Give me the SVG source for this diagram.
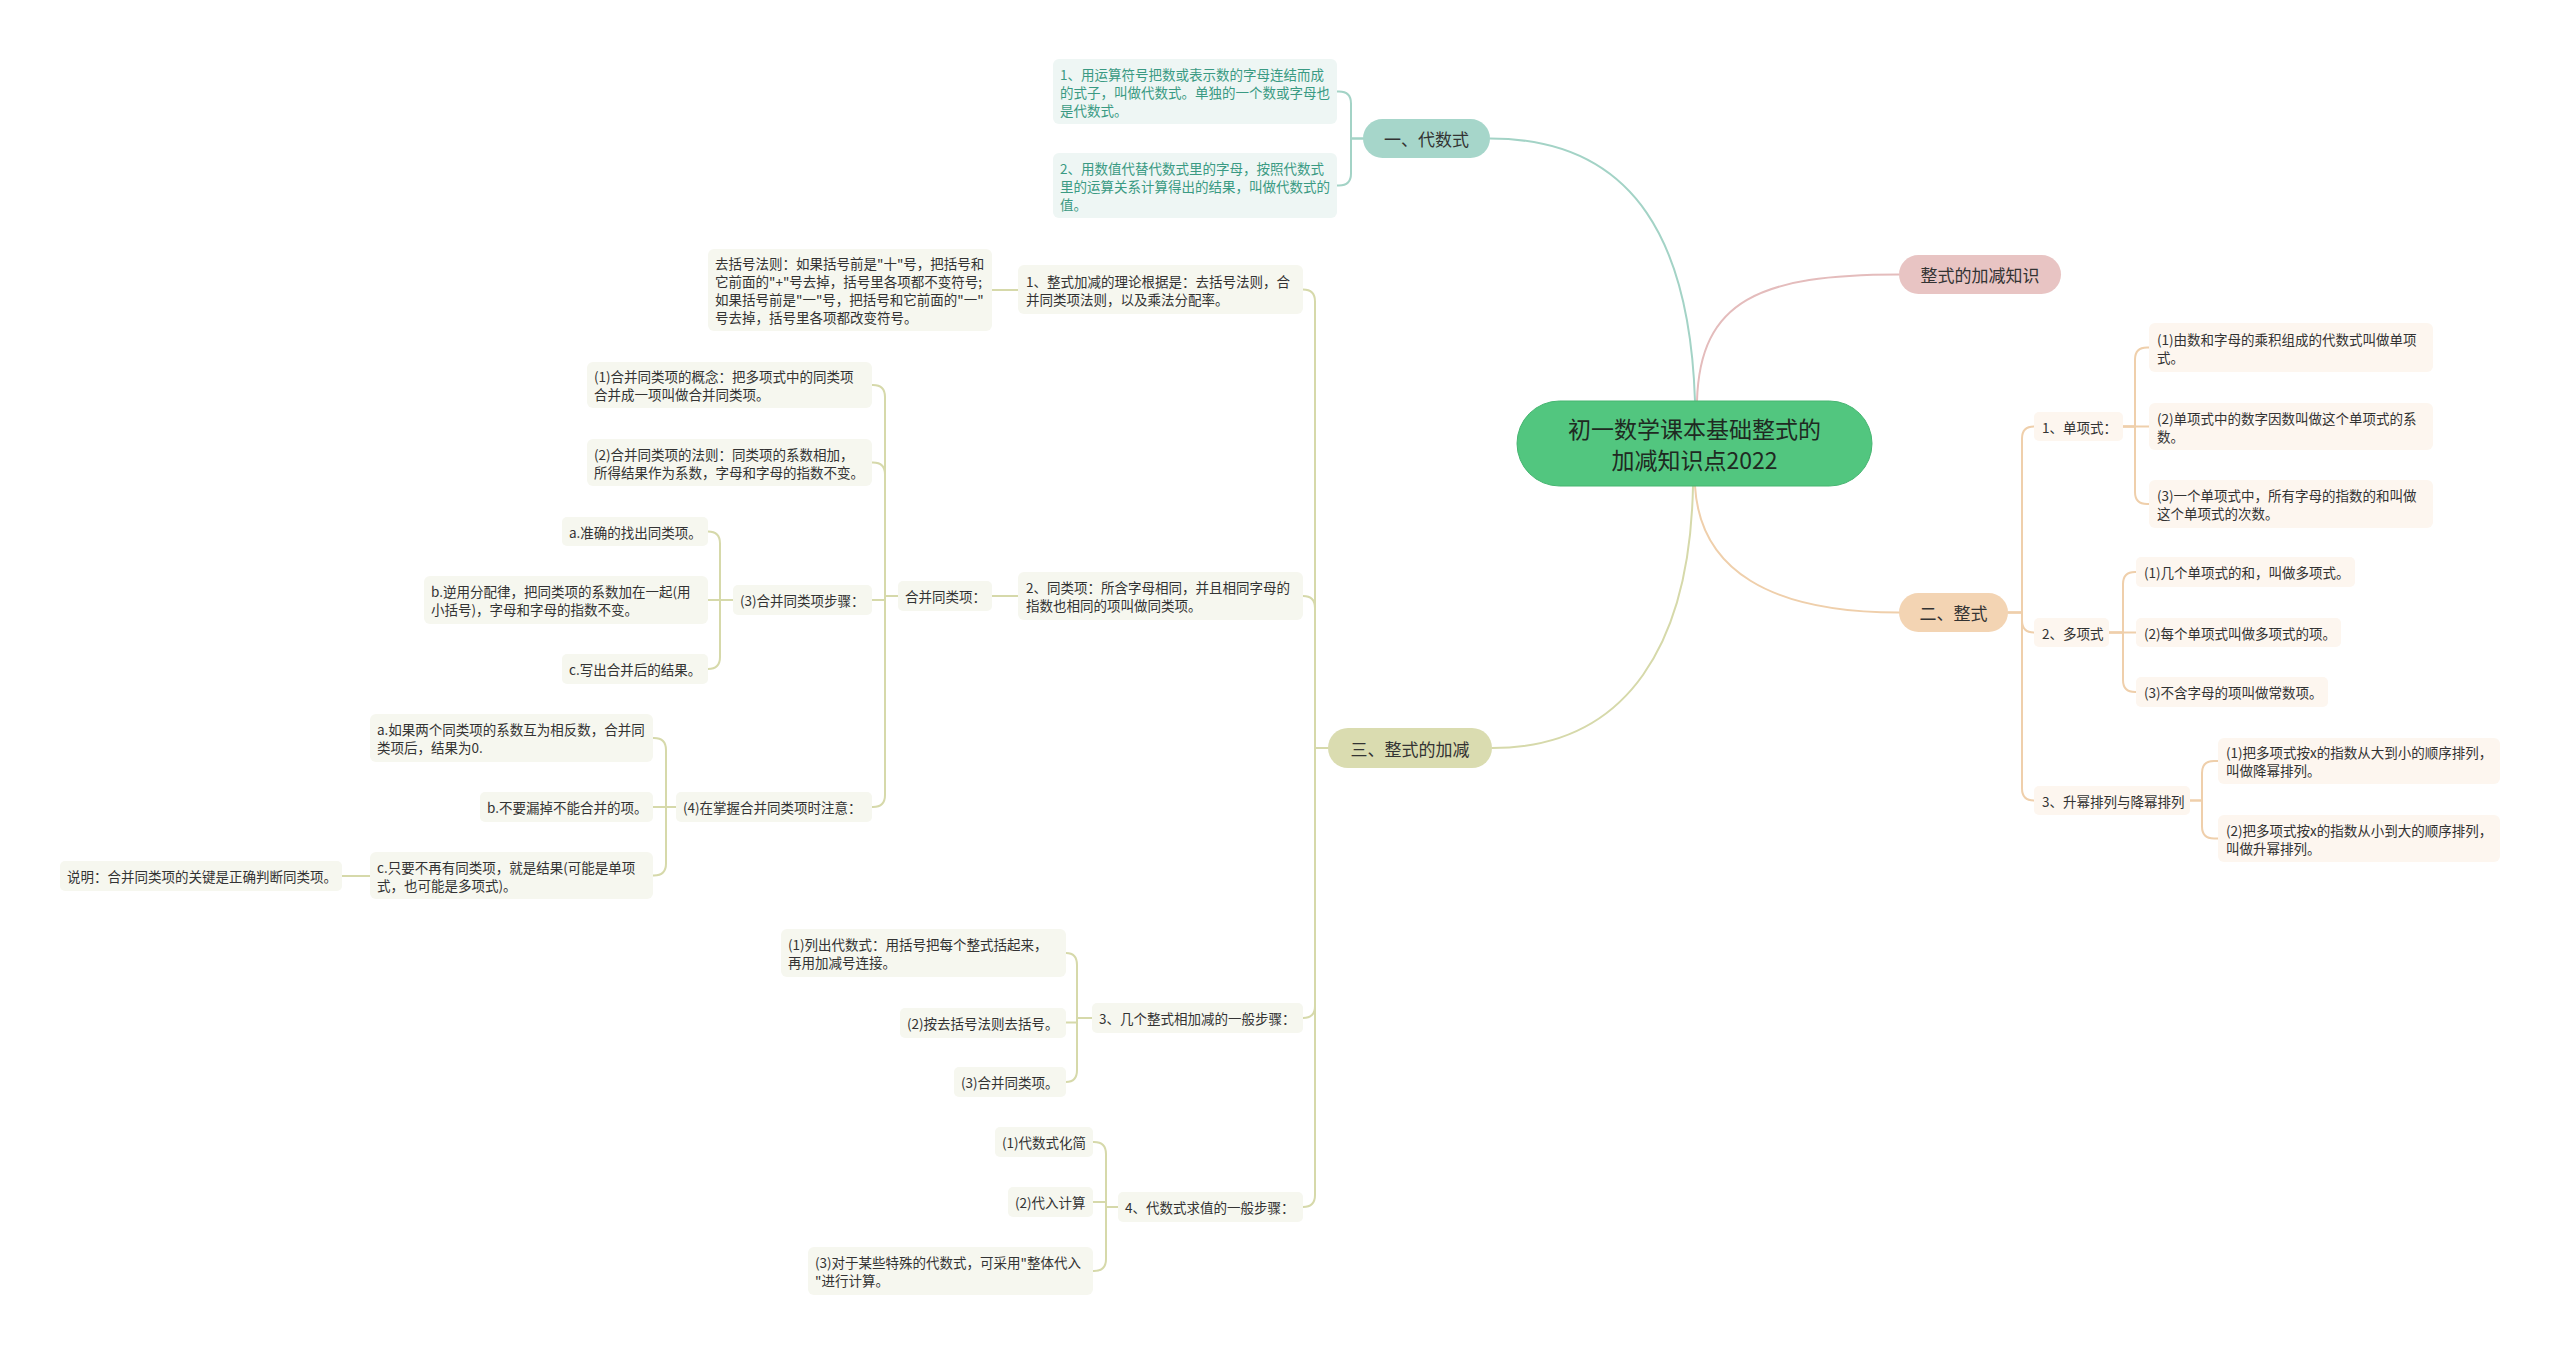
<svg xmlns="http://www.w3.org/2000/svg" width="2560" height="1354" viewBox="0 0 2560 1354">
<style>
text{font-family:"Noto Sans CJK SC","Noto Sans",sans-serif;dominant-baseline:central}
.t{font-size:13.5px;fill:#333}
.tg{font-size:13.5px;fill:#3a9a83}
.m{font-size:17px;fill:#333;text-anchor:middle}
.c{font-size:23px;fill:#1f2a22;text-anchor:middle}
.lt{fill:#eef6f4}
.lo{fill:#f6f7ef}
.lp{fill:#fdf6ef}
.ct{fill:none;stroke:#a3d3c6;stroke-width:2}
.co{fill:none;stroke:#d6d9aa;stroke-width:2}
.cp{fill:none;stroke:#efcfab;stroke-width:2}
.ck{fill:none;stroke:#e4bcbc;stroke-width:2}
</style>
<rect width="2560" height="1354" fill="#ffffff"/>
<g id="connectors" stroke-linecap="round">
<path class="ct" d="M1695 401 C1690 250 1640 138.5 1490 138.5" stroke-width="2.5"/>
<path class="ck" d="M1697 401 C1700 300 1760 274.5 1899 274.5" stroke-width="2.5"/>
<path class="cp" d="M1695 486 C1700 570 1770 612.5 1899 612.5" stroke-width="2.5"/>
<path class="co" d="M1693 486 C1690 640 1630 748 1492 748" stroke-width="2.5"/>
<path class="ct" d="M1363 138.5 H1351 V103.5 Q1351 91.5 1339 91.5 H1337"/>
<path class="ct" d="M1363 138.5 H1351 V173.5 Q1351 185.5 1339 185.5 H1337"/>
<path class="cp" d="M2008 612.5 H2022 V438.5 Q2022 426.5 2034 426.5"/>
<path class="cp" d="M2008 612.5 H2022 V620.5 Q2022 632.5 2034 632.5"/>
<path class="cp" d="M2008 612.5 H2022 V788.5 Q2022 800.5 2034 800.5"/>
<path class="cp" d="M2123 426.5 H2135 V359.5 Q2135 347.5 2147 347.5 H2149"/>
<path class="cp" d="M2123 426.5 H2149"/>
<path class="cp" d="M2123 426.5 H2135 V492 Q2135 504 2147 504 H2149"/>
<path class="cp" d="M2109 632.5 H2123 V584 Q2123 572 2135 572 H2136"/>
<path class="cp" d="M2109 632.5 H2136"/>
<path class="cp" d="M2109 632.5 H2123 V680 Q2123 692 2135 692 H2136"/>
<path class="cp" d="M2190 800.5 H2202 V773 Q2202 761 2214 761 H2218"/>
<path class="cp" d="M2190 800.5 H2202 V826.5 Q2202 838.5 2214 838.5 H2218"/>
<path class="co" d="M1328 748 H1315 V301.5 Q1315 289.5 1303 289.5"/>
<path class="co" d="M1328 748 H1315 V608 Q1315 596 1303 596"/>
<path class="co" d="M1328 748 H1315 V1006 Q1315 1018 1303 1018"/>
<path class="co" d="M1328 748 H1315 V1195 Q1315 1207 1303 1207"/>
<path class="co" d="M1018 290 H992"/>
<path class="co" d="M1018 596 H992"/>
<path class="co" d="M898 596 H885 V397 Q885 385 873 385 H872"/>
<path class="co" d="M898 596 H885 V474.5 Q885 462.5 873 462.5 H872"/>
<path class="co" d="M898 596 H885 V600 H872"/>
<path class="co" d="M898 596 H885 V795 Q885 807 873 807 H872"/>
<path class="co" d="M733 600 H720 V543.5 Q720 531.5 708 531.5"/>
<path class="co" d="M733 600 H708"/>
<path class="co" d="M733 600 H720 V657 Q720 669 708 669"/>
<path class="co" d="M676 807 H666 V750 Q666 738 654 738 H653"/>
<path class="co" d="M676 807 H653"/>
<path class="co" d="M676 807 H666 V863.5 Q666 875.5 654 875.5 H653"/>
<path class="co" d="M370 876 H342"/>
<path class="co" d="M1092 1018 H1077 V965 Q1077 953 1066 953"/>
<path class="co" d="M1092 1018 H1077 V1022.5 H1066"/>
<path class="co" d="M1092 1018 H1077 V1070 Q1077 1082 1066 1082"/>
<path class="co" d="M1118 1207 H1106 V1154 Q1106 1142 1094 1142 H1093"/>
<path class="co" d="M1118 1207 H1106 V1202 H1093"/>
<path class="co" d="M1118 1207 H1106 V1259 Q1106 1271 1094 1271 H1093"/>
</g>

<g id="n-center"><rect x="1517" y="401" width="355" height="85" rx="42.5" fill="#52c67f" stroke="#46b571" stroke-width="1"/><text class="c" x="1694.5" y="428">初一数学课本基础整式的</text><text class="c" x="1694.5" y="459">加减知识点2022</text></g>

<g id="n-daishushi"><rect x="1363" y="119" width="127" height="39" rx="19.5" fill="#a6d6ca"/><text class="m" x="1426.5" y="138.5">一、代数式</text></g>
<g id="n-a1"><rect class="lt" x="1053" y="59" width="284" height="65" rx="6"/><text class="tg" x="1060" y="73.5">1、用运算符号把数或表示数的字母连结而成</text><text class="tg" x="1060" y="91.5">的式子，叫做代数式。单独的一个数或字母也</text><text class="tg" x="1060" y="109.5">是代数式。</text></g>
<g id="n-a2"><rect class="lt" x="1053" y="153" width="284" height="65" rx="6"/><text class="tg" x="1060" y="167.5">2、用数值代替代数式里的字母，按照代数式</text><text class="tg" x="1060" y="185.5">里的运算关系计算得出的结果，叫做代数式的</text><text class="tg" x="1060" y="203.5">值。</text></g>

<g id="n-zhishi"><rect x="1899" y="255" width="162" height="39" rx="19.5" fill="#e8c4c3"/><text class="m" x="1980" y="274.5">整式的加减知识</text></g>

<g id="n-zhengshi"><rect x="1899" y="593" width="109" height="39" rx="19.5" fill="#f3d4b3"/><text class="m" x="1953.5" y="612.5">二、整式</text></g>
<g id="n-d1"><rect class="lp" x="2034" y="412" width="89" height="29" rx="5"/><text class="t" x="2042" y="426.5">1、单项式：</text></g>
<g id="n-d1a"><rect class="lp" x="2149" y="323" width="284" height="49" rx="6"/><text class="t" x="2157" y="338.5">(1)由数和字母的乘积组成的代数式叫做单项</text><text class="t" x="2157" y="356.5">式。</text></g>
<g id="n-d1b"><rect class="lp" x="2149" y="403" width="284" height="47" rx="6"/><text class="t" x="2157" y="417.5">(2)单项式中的数字因数叫做这个单项式的系</text><text class="t" x="2157" y="435.5">数。</text></g>
<g id="n-d1c"><rect class="lp" x="2149" y="480" width="284" height="48" rx="6"/><text class="t" x="2157" y="495">(3)一个单项式中，所有字母的指数的和叫做</text><text class="t" x="2157" y="513">这个单项式的次数。</text></g>
<g id="n-d2"><rect class="lp" x="2034" y="618" width="75" height="29" rx="5"/><text class="t" x="2042" y="632.5">2、多项式</text></g>
<g id="n-d2a"><rect class="lp" x="2136" y="557" width="219" height="30" rx="5"/><text class="t" x="2144" y="572">(1)几个单项式的和，叫做多项式。</text></g>
<g id="n-d2b"><rect class="lp" x="2136" y="618" width="205" height="29" rx="5"/><text class="t" x="2144" y="632.5">(2)每个单项式叫做多项式的项。</text></g>
<g id="n-d2c"><rect class="lp" x="2136" y="677" width="192" height="30" rx="5"/><text class="t" x="2144" y="692">(3)不含字母的项叫做常数项。</text></g>
<g id="n-d3"><rect class="lp" x="2034" y="786" width="156" height="29" rx="5"/><text class="t" x="2042" y="800.5">3、升幂排列与降幂排列</text></g>
<g id="n-d3a"><rect class="lp" x="2218" y="738" width="282" height="46" rx="6"/><text class="t" x="2226" y="752">(1)把多项式按x的指数从大到小的顺序排列，</text><text class="t" x="2226" y="770">叫做降幂排列。</text></g>
<g id="n-d3b"><rect class="lp" x="2218" y="815" width="282" height="47" rx="6"/><text class="t" x="2226" y="829.5">(2)把多项式按x的指数从小到大的顺序排列，</text><text class="t" x="2226" y="847.5">叫做升幂排列。</text></g>

<g id="n-jiajian"><rect x="1328" y="728" width="164" height="40" rx="20" fill="#dadcb0"/><text class="m" x="1410" y="748">三、整式的加减</text></g>
<g id="n-e1"><rect class="lo" x="1018" y="265" width="285" height="49" rx="6"/><text class="t" x="1026" y="280.5">1、整式加减的理论根据是：去括号法则，合</text><text class="t" x="1026" y="298.5">并同类项法则，以及乘法分配率。</text></g>
<g id="n-e1a"><rect class="lo" x="708" y="249" width="284" height="82" rx="6"/><text class="t" x="715" y="263">去括号法则：如果括号前是"十"号，把括号和</text><text class="t" x="715" y="281">它前面的"+"号去掉，括号里各项都不变符号;</text><text class="t" x="715" y="299">如果括号前是"一"号，把括号和它前面的"一"</text><text class="t" x="715" y="317">号去掉，括号里各项都改变符号。</text></g>
<g id="n-e2"><rect class="lo" x="1018" y="572" width="285" height="48" rx="6"/><text class="t" x="1026" y="587">2、同类项：所含字母相同，并且相同字母的</text><text class="t" x="1026" y="605">指数也相同的项叫做同类项。</text></g>
<g id="n-e2a"><rect class="lo" x="898" y="581" width="94" height="30" rx="5"/><text class="t" x="905" y="596">合并同类项：</text></g>
<g id="n-f1"><rect class="lo" x="587" y="362" width="285" height="46" rx="6"/><text class="t" x="594" y="376">(1)合并同类项的概念：把多项式中的同类项</text><text class="t" x="594" y="394">合并成一项叫做合并同类项。</text></g>
<g id="n-f2"><rect class="lo" x="587" y="439" width="285" height="47" rx="6"/><text class="t" x="594" y="453.5">(2)合并同类项的法则：同类项的系数相加，</text><text class="t" x="594" y="471.5">所得结果作为系数，字母和字母的指数不变。</text></g>
<g id="n-f3"><rect class="lo" x="733" y="585" width="139" height="30" rx="5"/><text class="t" x="740" y="600">(3)合并同类项步骤：</text></g>
<g id="n-f3a"><rect class="lo" x="562" y="517" width="146" height="29" rx="5"/><text class="t" x="569" y="531.5">a.准确的找出同类项。</text></g>
<g id="n-f3b"><rect class="lo" x="424" y="576" width="284" height="48" rx="6"/><text class="t" x="431" y="591">b.逆用分配律，把同类项的系数加在一起(用</text><text class="t" x="431" y="609">小括号)，字母和字母的指数不变。</text></g>
<g id="n-f3c"><rect class="lo" x="562" y="654" width="146" height="30" rx="5"/><text class="t" x="569" y="669">c.写出合并后的结果。</text></g>
<g id="n-f4"><rect class="lo" x="676" y="792" width="196" height="30" rx="5"/><text class="t" x="683" y="807">(4)在掌握合并同类项时注意：</text></g>
<g id="n-f4a"><rect class="lo" x="370" y="714" width="283" height="48" rx="6"/><text class="t" x="377" y="729">a.如果两个同类项的系数互为相反数，合并同</text><text class="t" x="377" y="747">类项后，结果为0.</text></g>
<g id="n-f4b"><rect class="lo" x="480" y="792" width="173" height="30" rx="5"/><text class="t" x="487" y="807">b.不要漏掉不能合并的项。</text></g>
<g id="n-f4c"><rect class="lo" x="370" y="852" width="283" height="47" rx="6"/><text class="t" x="377" y="866.5">c.只要不再有同类项，就是结果(可能是单项</text><text class="t" x="377" y="884.5">式，也可能是多项式)。</text></g>
<g id="n-f4c1"><rect class="lo" x="60" y="861" width="282" height="30" rx="5"/><text class="t" x="67" y="876">说明：合并同类项的关键是正确判断同类项。</text></g>
<g id="n-e3"><rect class="lo" x="1092" y="1003" width="211" height="30" rx="5"/><text class="t" x="1099" y="1018">3、几个整式相加减的一般步骤：</text></g>
<g id="n-e3a"><rect class="lo" x="781" y="929" width="285" height="48" rx="6"/><text class="t" x="788" y="944">(1)列出代数式：用括号把每个整式括起来，</text><text class="t" x="788" y="962">再用加减号连接。</text></g>
<g id="n-e3b"><rect class="lo" x="900" y="1008" width="166" height="30" rx="5"/><text class="t" x="907" y="1023">(2)按去括号法则去括号。</text></g>
<g id="n-e3c"><rect class="lo" x="954" y="1067" width="112" height="30" rx="5"/><text class="t" x="961" y="1082">(3)合并同类项。</text></g>
<g id="n-e4"><rect class="lo" x="1118" y="1192" width="185" height="30" rx="5"/><text class="t" x="1125" y="1207">4、代数式求值的一般步骤：</text></g>
<g id="n-e4a"><rect class="lo" x="995" y="1127" width="98" height="30" rx="5"/><text class="t" x="1002" y="1142">(1)代数式化简</text></g>
<g id="n-e4b"><rect class="lo" x="1008" y="1187" width="85" height="30" rx="5"/><text class="t" x="1015" y="1202">(2)代入计算</text></g>
<g id="n-e4c"><rect class="lo" x="808" y="1247" width="285" height="48" rx="6"/><text class="t" x="815" y="1262">(3)对于某些特殊的代数式，可采用"整体代入</text><text class="t" x="815" y="1280">"进行计算。</text></g>
</svg>
